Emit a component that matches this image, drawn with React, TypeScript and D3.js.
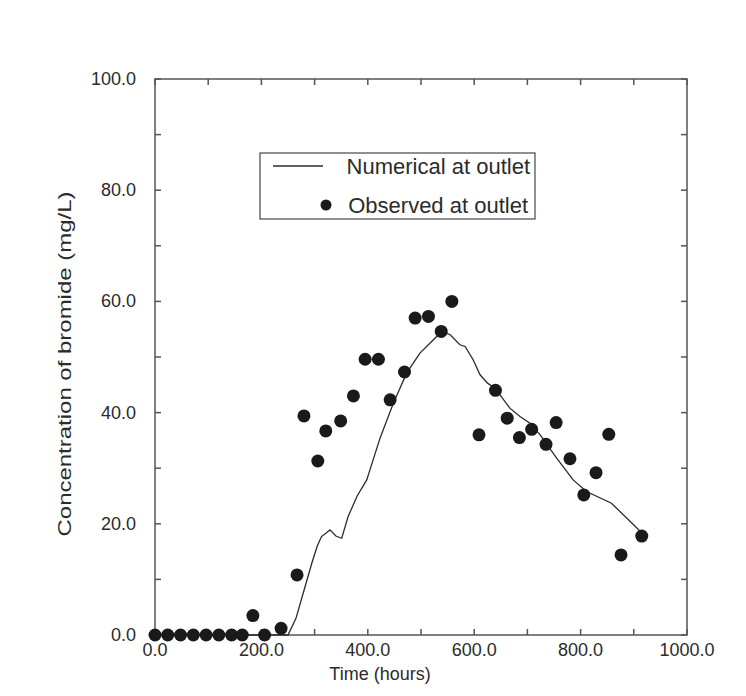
import React, { useEffect } from "react"
import * as d3 from "d3"

// observed bromide at outlet (hours, mg/L)
const obsTime = [0, 24, 48, 72, 96, 120, 144, 164, 184, 206, 237, 267, 280, 306, 321, 349, 373, 395, 420, 442, 469, 489, 514, 538, 558, 609, 640, 662, 685, 708, 735, 754, 780, 806, 829, 853, 876, 915]
const obsConc = [0, 0, 0, 0, 0, 0, 0, 0, 3.5, 0, 1.2, 10.8, 39.4, 31.3, 36.7, 38.5, 43, 49.6, 49.6, 42.3, 47.3, 57, 57.3, 54.6, 60, 36, 44, 39, 35.5, 37, 34.3, 38.2, 31.7, 25.2, 29.2, 36.1, 14.4, 17.8]

// numerical result at outlet
const numTime = [0, 250, 265, 280, 295, 305, 313, 329, 340, 351, 363, 380, 398, 410, 423, 448, 473, 498, 520, 539, 555, 573, 583, 598, 611, 625, 639, 667, 686, 705, 724, 755, 786, 811, 858, 915]
const numConc = [0, 0, 3, 8, 13, 16, 17.7, 18.9, 17.8, 17.4, 21.3, 25, 27.9, 31.5, 35.4, 41.7, 47.1, 50.7, 52.8, 54.6, 54, 52.2, 51.9, 49.5, 46.8, 45.3, 44.4, 40.8, 39.3, 38.1, 36, 31.8, 27.9, 25.8, 23.7, 18.4]

const xTickLabels = [0, 200, 400, 600, 800, 1000]
const yTickLabels = [0, 20, 40, 60, 80, 100]

const W = 746, H = 696
const left = 155, right = 687, top = 79, bottom = 635
const ink = "#2b2b2b"
const font = "'Liberation Sans', Arial, Helvetica, sans-serif"

export default function App() {
  useEffect(() => {
    document.body.style.margin = "0"
  }, [])

  const x = d3.scaleLinear().domain([0, 1000]).range([left, right])
  const y = d3.scaleLinear().domain([0, 100]).range([bottom, top])

  const line = d3.line<number>()
    .x((d, i) => x(numTime[i]))
    .y(d => y(d))

  const xMinor = d3.range(0, 1001, 100)
  const yMinor = d3.range(0, 101, 10)
  const tl = 6

  return (
    <svg width={W} height={H} style={{ display: "block", background: "#fff" }}>
      <g fill="none" stroke="#555" strokeWidth={1.5}>
        <rect x={left} y={top} width={right - left} height={bottom - top} />
        {xMinor.map(t => (
          <g key={"x" + t}>
            <line x1={x(t)} x2={x(t)} y1={bottom} y2={bottom - tl} />
            <line x1={x(t)} x2={x(t)} y1={top} y2={top + tl} />
          </g>
        ))}
        {yMinor.map(t => (
          <g key={"y" + t}>
            <line x1={left} x2={left + tl} y1={y(t)} y2={y(t)} />
            <line x1={right} x2={right - tl} y1={y(t)} y2={y(t)} />
          </g>
        ))}
      </g>

      <g fontFamily={font} fontSize={18} fill={ink}>
        {xTickLabels.map(t => (
          <text key={t} x={x(t)} y={bottom + 21} textAnchor="middle">{t.toFixed(1)}</text>
        ))}
        {yTickLabels.map(t => (
          <text key={t} x={left - 19} y={y(t) + 6} textAnchor="end">{t.toFixed(1)}</text>
        ))}
        <text x={380} y={bottom + 45} textAnchor="middle">Time (hours)</text>
        <text transform="translate(71,364) rotate(-90)" textAnchor="middle"
          textLength={345} lengthAdjust="spacingAndGlyphs">
          Concentration of bromide (mg/L)
        </text>
      </g>

      <path d={line(numConc) || ""} fill="none" stroke={ink} strokeWidth={1.3} />

      <g fill="#1a1a1a">
        {obsConc.map((c, i) => (
          <circle key={i} cx={x(obsTime[i])} cy={y(c)} r={6.5} />
        ))}
      </g>

      <g fontFamily={font} fontSize={22} fill={ink}>
        <rect x={260} y={153} width={275} height={66} fill="#fff" stroke="#555" strokeWidth={1.3} />
        <line x1={273} x2={323} y1={166} y2={166} stroke={ink} strokeWidth={1.3} />
        <text x={530} y={174} textAnchor="end">Numerical at outlet</text>
        <circle cx={326} cy={205} r={5.5} fill="#1a1a1a" />
        <text x={528} y={213} textAnchor="end">Observed at outlet</text>
      </g>
    </svg>
  )
}
